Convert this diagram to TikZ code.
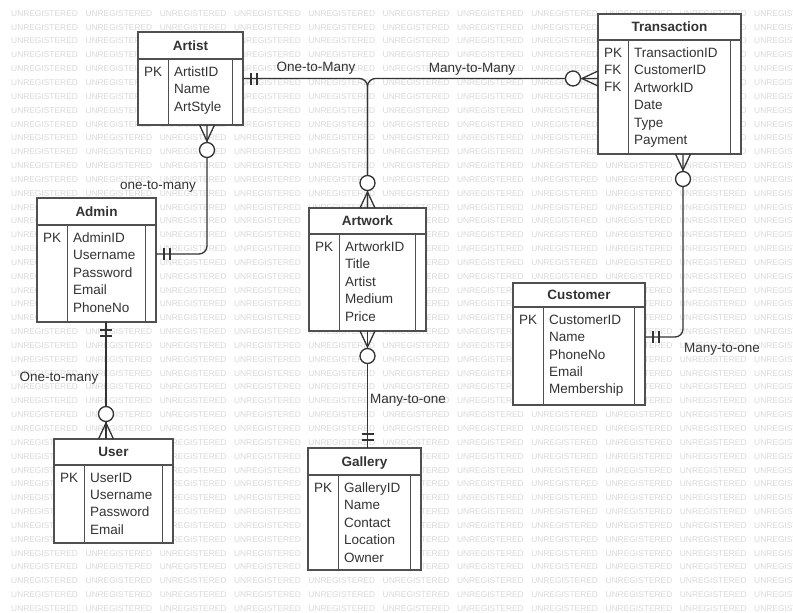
\documentclass[tikz,border=0pt]{standalone}
\usepackage{fontspec}
\setmainfont{Liberation Sans}
\usetikzlibrary{calc}

\definecolor{ink}{HTML}{333333}
\definecolor{frame}{HTML}{505050}
\definecolor{wmgray}{HTML}{D9D9D9}

\tikzset{
  entity/.style={draw=frame, line width=1.6pt, fill=white, rectangle,
    anchor=north west, inner sep=0pt, outer sep=0pt},
  boxline/.style={draw=frame, line width=1.6pt},
  etitle/.style={font=\fontsize{13.5}{16}\selectfont\bfseries, text=ink,
    inner sep=0pt, text height=9.7pt, text depth=0pt},
  efield/.style={font=\fontsize{13.5}{17.4}\selectfont, text=ink,
    inner sep=0pt, align=left, anchor=north west},
  conn/.style={draw=ink, line width=1.3pt},
  rel/.style={font=\fontsize{13.5}{16}\selectfont, text=ink, inner sep=0pt,
    text height=9.7pt, text depth=0pt},
  wm/.style={font=\fontsize{8.4}{10}\selectfont, text=wmgray, inner sep=0pt,
    anchor=west, text height=6pt, text depth=0pt}
}

% entity box: name, top-left corner, width, height, header height, title, keys, fields
\newcommand\erentity[8]{%
  \node[entity, minimum width=#3, minimum height=#4] (#1) at (#2) {};
  \draw[boxline] ([yshift=-#5]#1.north west) -- ([yshift=-#5]#1.north east);
  \draw[boxline] ([xshift=30.5pt,yshift=-#5]#1.north west) -- ([xshift=30.5pt]#1.south west);
  \draw[boxline] ([xshift=-10.5pt,yshift=-#5]#1.north east) -- ([xshift=-10.5pt]#1.south east);
  \node[etitle] (#1-title) at ([yshift=-#5/2]#1.north) {#6};
  \node[efield] (#1-keys) at ([xshift=6pt,yshift=-#5-7.6pt]#1.north west) {#7};
  \node[efield] (#1-fields) at ([xshift=36pt,yshift=-#5-7.6pt]#1.north west) {#8};
}

% zero-or-many end: crow's foot at the box, circle further out
\newcommand\zeromany[2]{%
  \begin{scope}[shift={(#1)}, rotate=#2]
    \draw[conn] (0,7.5) -- (16,0) -- (0,-7.5);
    \draw[conn, fill=white] (25,0) circle[radius=7.5pt];
  \end{scope}}

% one-and-only-one end: two bars across the line
\newcommand\onlyone[2]{%
  \begin{scope}[shift={(#1)}, rotate=#2]
    \draw[conn] (8,-6) -- (8,6) (14,-6) -- (14,6);
  \end{scope}}

\begin{document}
\begin{tikzpicture}[x=1pt, y=-1pt]
  \fill[white] (0,0) rectangle (793,613);
  \path[use as bounding box] (0,0) rectangle (793,613);

  % background watermark grid
  \foreach \i in {0,...,10}
    \foreach \j in {0,...,43}
      \node[wm] (wm-\i-\j) at ({11+74.3*\i}, {13.3+13.84*\j}) {UNREGISTERED};

  % entities
  \erentity{Artist}{138,32}{105pt}{93pt}{27pt}{Artist}{PK}{ArtistID\\Name\\ArtStyle}
  \erentity{Transaction}{598,14}{143pt}{140pt}{26pt}{Transaction}{PK\\FK\\FK}%
    {TransactionID\\CustomerID\\ArtworkID\\Date\\Type\\Payment}
  \erentity{Admin}{37,198}{119pt}{124pt}{27pt}{Admin}{PK}%
    {AdminID\\Username\\Password\\Email\\PhoneNo}
  \erentity{Artwork}{309,208}{117pt}{123pt}{26pt}{Artwork}{PK}%
    {ArtworkID\\Title\\Artist\\Medium\\Price}
  \erentity{Customer}{513,283}{132pt}{122pt}{24pt}{Customer}{PK}%
    {CustomerID\\Name\\PhoneNo\\Email\\Membership}
  \erentity{User}{54,439}{119pt}{104pt}{26pt}{User}{PK}%
    {UserID\\Username\\Password\\Email}
  \erentity{Gallery}{308,448}{113pt}{122pt}{27pt}{Gallery}{PK}%
    {GalleryID\\Name\\Contact\\Location\\Owner}

  % attachment points that are off the box centres
  \coordinate (artistfoot) at ([xshift=16.5pt]Artist.south);
  \coordinate (adminside) at ([yshift=6pt]Admin.east);
  \coordinate (adminfoot) at ([xshift=9.5pt]Admin.south);
  \coordinate (userhead) at (adminfoot |- User.north);
  \coordinate (transside) at (Transaction.west |- Artist.east);
  \coordinate (transfoot) at ([xshift=13.5pt]Transaction.south);
  \coordinate (custside) at ([yshift=7pt]Customer.east);
  \coordinate (galleryhead) at (Artwork.south |- Gallery.north);

  % relationships
  \draw[conn, rounded corners=8pt] (Artist.east) -| (Artwork.north);
  \draw[conn, rounded corners=8pt] (transside) -| (Artwork.north);
  \draw[conn, rounded corners=8pt] (artistfoot) |- (adminside);
  \draw[conn] (adminfoot) -- (userhead);
  \draw[conn] (Artwork.south) -- (galleryhead);
  \draw[conn, rounded corners=8pt] (transfoot) |- (custside);

  % cardinality ends
  \onlyone{Artist.east}{0}
  \zeromany{Artwork.north}{90}
  \zeromany{transside}{180}
  \zeromany{artistfoot}{-90}
  \onlyone{adminside}{0}
  \onlyone{adminfoot}{-90}
  \zeromany{userhead}{90}
  \zeromany{Artwork.south}{-90}
  \onlyone{galleryhead}{90}
  \zeromany{transfoot}{-90}
  \onlyone{custside}{0}

  % relationship labels
  \node[rel] (lab-artist-artwork) at (316,67) {One-to-Many};
  \node[rel] (lab-trans-artwork) at (472,68) {Many-to-Many};
  \node[rel] (lab-artist-admin) at (158,185) {one-to-many};
  \node[rel] (lab-admin-user) at (59,377) {One-to-many};
  \node[rel] (lab-artwork-gallery) at (408,399) {Many-to-one};
  \node[rel] (lab-trans-customer) at (722,348) {Many-to-one};
\end{tikzpicture}
\end{document}
